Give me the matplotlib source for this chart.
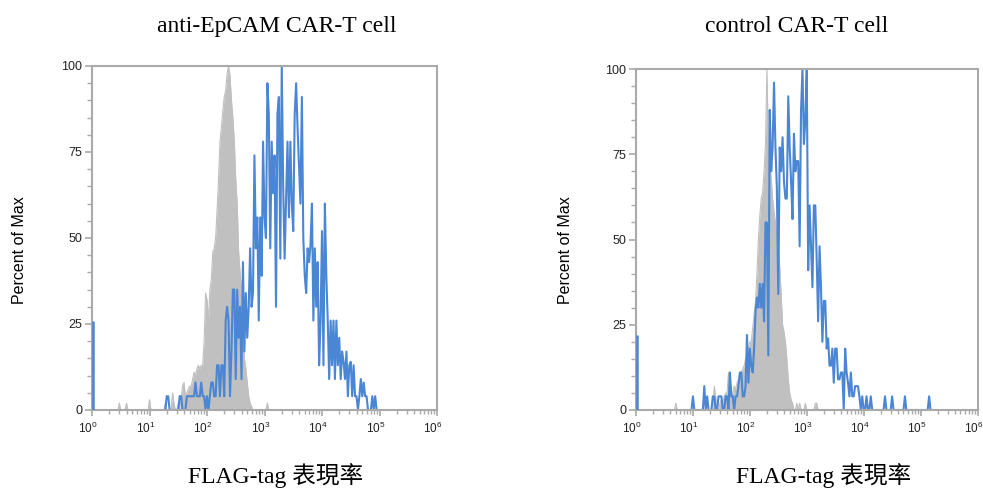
import numpy as np
import matplotlib
matplotlib.use('Agg')
import matplotlib.pyplot as plt
import matplotlib.transforms as mtransforms
from matplotlib.ticker import FixedLocator, LogLocator, NullFormatter

plt.rcParams['font.family'] = ['Liberation Sans', 'DejaVu Sans']
plt.rcParams['mathtext.fontset'] = 'custom'
plt.rcParams['mathtext.rm'] = 'Liberation Sans'
plt.rcParams['mathtext.it'] = 'Liberation Sans:italic'

# DATA (histogram bins on a log10 channel grid, percent of max)
bin_step = 0.025

titles = ['anti-EpCAM CAR-T cell', 'control CAR-T cell']
x_label = 'FLAG-tag 表現率'
y_label = 'Percent of Max'

# anti-EpCAM panel
anti_gray_start = 0.475
anti_gray = [2, 0, 0, 0, 0, 2,
             0, 0, 0, 0, 0, 0, 0, 0, 0, 0, 0, 0, 0, 0, 0,
             3, 0, 0, 0, 0, 0, 0, 0, 0, 0, 0,
             2, 0, 0, 0, 0, 5, 2, 0, 0, 2, 0, 3, 7, 8, 4, 5, 6, 7, 7, 9,
             11, 10, 12, 13, 12, 13, 13, 20, 34, 32, 26, 35, 38, 46, 47, 50,
             58, 67, 78, 82, 87, 91, 93, 98, 100, 97, 90, 85, 78, 67, 60, 46,
             40, 35, 25, 15, 12, 8, 4, 2, 1,
             0, 0, 0, 0, 0, 0, 0, 0, 0, 0, 2]

anti_blue_start = 1.3
anti_blue = [4, 4, 0, 0, 0, 0, 0, 0, 0, 4, 4, 0, 0, 0, 4, 4, 4, 4, 4, 4,
             8, 4, 4, 4, 8, 4, 4, 0, 4, 0, 4, 8, 8, 4, 4, 13, 13, 4, 13, 13,
             4, 26, 30, 26, 4, 17, 35, 35, 9, 35, 21, 30, 9, 43, 17, 34, 21, 30, 47, 30,
             34, 74, 47, 56, 26, 56, 39, 78, 56, 50, 95, 86, 47, 78, 63, 74, 30, 86, 91, 44,
             100, 65, 44, 61, 78, 56, 78, 60, 52, 86, 95, 82, 71, 60, 91, 50, 39, 34, 47, 43,
             48, 60, 26, 47, 30, 43, 13, 26, 52, 13, 60, 39, 26, 9, 26, 13, 26, 9, 26, 13,
             21, 9, 17, 14, 9, 17, 4, 13, 14, 4, 13, 4, 4, 0, 4, 9, 4, 8, 4, 4,
             0, 0, 0, 4, 0, 4, 0]
anti_blue_floor = 26   # events piled up in the lowest channel

# control panel
ctrl_gray_start = 0.7
ctrl_gray = [2,
             0, 0, 0, 0, 0, 0, 0, 0, 0, 0, 0, 0, 0, 0, 0, 0, 0, 0, 0, 0, 0, 0, 0, 0, 0, 0,
             7, 4, 0, 0, 2, 3, 2, 4, 5, 5, 11, 6, 4, 5, 7, 6, 8, 9, 10, 11,
             12, 13, 15, 16, 18, 20, 20, 24, 28, 32, 40, 50, 57, 62, 64, 70,
             78, 100, 79, 72, 68, 62, 58, 55, 50, 47, 42, 34, 25, 23, 20, 15,
             9, 5, 3, 2, 0, 0, 2, 0, 2, 0, 0, 0, 2, 0, 0, 0, 0, 0, 0, 2, 2]

ctrl_blue_start = 1.0
ctrl_blue = [4, 0, 0, 0, 0, 0, 0, 0, 7, 0, 4, 0, 0, 0, 4, 4, 0, 0, 4, 4,
             4, 0, 0, 4, 4, 0, 11, 4, 4, 0, 4, 4, 7, 11, 11, 4, 4, 7, 22, 8,
             18, 13, 11, 18, 29, 33, 30, 37, 30, 37, 26, 55, 55, 16, 88, 70, 77, 96, 77, 65,
             34, 77, 70, 80, 67, 62, 62, 92, 77, 67, 56, 81, 70, 73, 73, 48, 88, 100, 78, 85,
             100, 41, 60, 48, 36, 60, 60, 44, 26, 48, 36, 20, 32, 32, 18, 21, 13, 13, 18, 8,
             18, 18, 9, 9, 11, 11, 0, 18, 11, 8, 4, 11, 4, 4, 7, 7, 7, 4, 0, 4,
             0, 0, 4, 0, 0, 4, 0, 0, 0, 0, 0, 0, 0, 0, 0, 4, 0, 0, 0, 0,
             4, 0, 0, 0, 0, 0, 0, 0, 0, 4, 0, 0, 0, 0, 0, 0, 0, 0, 0, 0,
             0, 0, 0, 0, 0, 0, 4]
ctrl_blue_floor = 22

floor_channel = 0.012

panels = [
    (anti_gray_start, anti_gray, anti_blue_start, anti_blue, anti_blue_floor),
    (ctrl_gray_start, ctrl_gray, ctrl_blue_start, ctrl_blue, ctrl_blue_floor),
]

GRAY = '#c0c0c0'
BLUE = '#4a86d4'
SPINE = '#a9a9a9'


def channel_x(start, values):
    # bin centres on log scale, padded with an empty bin at each end
    ch = start + bin_step * np.arange(-1, len(values) + 1)
    y = np.concatenate([[0], values, [0]])
    return 10 ** ch, y


fig = plt.figure(figsize=(9.83, 4.88), dpi=100)
axes_pos = [[92 / 983, 78 / 488, 345 / 983, 344 / 488],
            [636 / 983, 78 / 488, 341.5 / 983, 341 / 488]]
title_x = [277 / 983, 797 / 983]
xlab_x = [276 / 983, 824 / 983]
ylab_x = [20 / 983, 565 / 983]

# tick labels sit a little left of their ticks
shift = mtransforms.ScaledTranslation(-4 / 100, 0, fig.dpi_scale_trans)

for i, (gs, gv, bs, bv, floor) in enumerate(panels):
    ax = fig.add_axes(axes_pos[i])
    ax.set_xscale('log')

    gx, gy = channel_x(gs, gv)
    ax.fill_between(gx, gy, color=GRAY, lw=0, zorder=1)
    ax.plot(gx, gy, color=GRAY, lw=0.8, zorder=1)

    bx, by = channel_x(bs, bv)
    ax.plot(bx, by, color=BLUE, lw=1.5, zorder=2)
    # off-scale pile-up in the first channel
    ax.vlines(10 ** floor_channel, 0, floor, color=BLUE, lw=1.8, zorder=3)

    ax.set_xlim(1, 1e6)
    ax.set_ylim(0, 100)

    ax.yaxis.set_major_locator(FixedLocator([0, 25, 50, 75, 100]))
    ax.yaxis.set_minor_locator(FixedLocator(np.arange(0, 101, 5)))
    ax.xaxis.set_major_locator(LogLocator(base=10, numticks=10))
    ax.xaxis.set_minor_locator(LogLocator(base=10, subs=np.arange(2, 10), numticks=20))
    ax.xaxis.set_minor_formatter(NullFormatter())

    for s in ax.spines.values():
        s.set_color(SPINE)
        s.set_linewidth(1.5)
    ax.tick_params(axis='y', which='major', length=5, width=1.2, color=SPINE,
                   labelsize=9, pad=2, labelcolor='#222222')
    ax.tick_params(axis='y', which='minor', length=3.5, width=1.0, color=SPINE)
    ax.tick_params(axis='x', which='major', length=4, width=1.2, color=SPINE,
                   labelsize=8.5, pad=4, labelcolor='#222222')
    ax.tick_params(axis='x', which='minor', length=3, width=1.0, color=SPINE)
    for lab in ax.get_xticklabels():
        lab.set_transform(lab.get_transform() + shift)

    fig.text(title_x[i], 0.945, titles[i], ha='center', va='center', fontsize=17,
             family=['Liberation Serif', 'Noto Sans CJK TC'])
    fig.text(xlab_x[i], 0.025, x_label, ha='center', va='center', fontsize=17,
             family=['Liberation Serif', 'Noto Sans CJK TC'])
    fig.text(ylab_x[i], 238 / 488, y_label, ha='center', va='center', rotation=90,
             fontsize=11.5)

fig.savefig('out.png', dpi=100)
